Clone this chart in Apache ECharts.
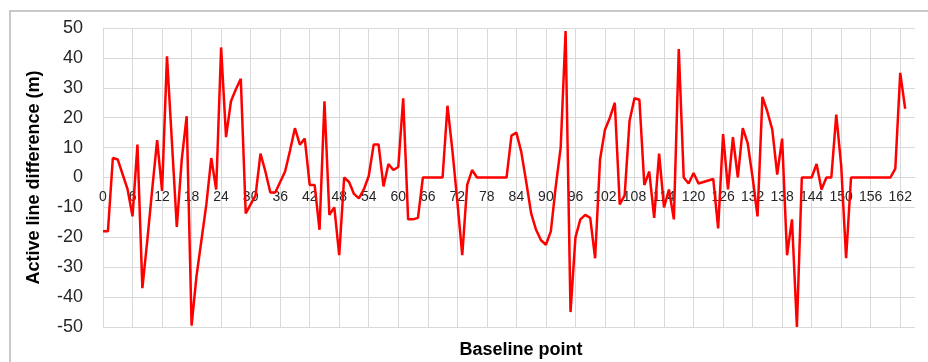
<!DOCTYPE html>
<html>
<head>
<meta charset="utf-8">
<script src="https://cdn.jsdelivr.net/npm/echarts@6/dist/echarts.min.js"></script>
<style>
  html, body { margin: 0; padding: 0; background: #fff; }
  #chart { width: 928px; height: 362px; }
</style>
</head>
<body>
<div id="chart"></div>
<script>
// baseline points 0..165 on the axis, values read for 0..163
const pointCount = 166
const categories = Array.from({ length: pointCount }, (_, i) => String(i))
const yTicks = [-50, -40, -30, -20, -10, 0, 10, 20, 30, 40, 50]
const difference = [
    -18, -18, 6.5, 6, 1, -4, -13, 11, -37, -21,
    -4, 12.5, -4.5, 40.5, 12, -16.5, 6, 20.5, -49.5, -33,
    -21, -9, 6.5, -4, 43.5, 13.5, 25.5, 29.5, 33, -12,
    -9, -6, 8, 2, -5, -5, -1.5, 2, 9, 16.5,
    11, 13, -2.5, -2.5, -17.5, 25.5, -12.5, -10, -26, 0,
    -1.5, -5.5, -7, -4, 0.5, 11, 11, -3, 4.5, 2.5,
    3.5, 26.5, -14, -14, -13.5, 0, 0, 0, 0, 0,
    24, 9, -8, -26, -2.5, 2.5, 0, 0, 0, 0,
    0, 0, 0, 14, 15, 8.5, -1.5, -12, -17.5, -21,
    -22.5, -18, -3, 10, 49, -45, -20, -14, -12.5, -13.5,
    -27, 6, 16, 20, 25, -9, -6, 19, 26.5, 26,
    -2.5, 2, -13.5, 8, -10, -4, -14, 43, 0, -2,
    1.5, -2, -1.5, -1, -0.5, -17, 14.5, -4, 13.5, 0,
    16.5, 11.5, 0, -13, 27, 22, 16, 1, 13, -26,
    -14, -50, 0, 0, 0, 4.5, -4, 0, 0, 21,
    4, -27, 0, 0, 0, 0, 0, 0, 0, 0,
    0, 3, 35, 23
]

const gridColor = "#d9d9d9"
const textColor = "#262626"

const chart = echarts.init(document.getElementById("chart"), null, { renderer: "canvas" })
chart.setOption({
    animation: false,
    backgroundColor: "#fff",
    graphic: [
        {
            type: "rect",
            shape: { x: 10, y: 11, width: 940, height: 400 },
            style: { fill: "none", stroke: "#b8b8b8", lineWidth: 1.5 },
        },
        {
            type: "text",
            style: {
                text: "Baseline point",
                x: 521,
                y: 350,
                align: "center",
                verticalAlign: "middle",
                fontFamily: "Liberation Sans",
                fontWeight: "bold",
                fontSize: 18,
                fill: "#000",
            },
        },
    ],
    grid: {
        left: 103,
        right: 13,
        top: 28,
        bottom: 35,
        containLabel: false,
    },
    xAxis: {
        type: "category",
        data: categories,
        boundaryGap: false,
        position: "bottom",
        // labels sit on the zero line, half way up the plot
        offset: -150,
        axisLine: { onZero: false, lineStyle: { color: gridColor, width: 1 } },
        axisTick: { show: false },
        axisLabel: {
            interval: 5,
            margin: 13,
            fontFamily: "Liberation Sans",
            fontSize: 14,
            color: textColor,
        },
        splitLine: { show: true, interval: 5, lineStyle: { color: gridColor, width: 1 } },
    },
    yAxis: {
        type: "value",
        min: yTicks[0],
        max: yTicks[yTicks.length - 1],
        interval: 10,
        name: "Active line difference (m)",
        nameLocation: "middle",
        nameGap: 60,
        nameTextStyle: {
            fontFamily: "Liberation Sans",
            fontWeight: "bold",
            fontSize: 18,
            color: "#000",
        },
        axisLine: { show: true, lineStyle: { color: gridColor, width: 1 } },
        axisTick: { show: false },
        axisLabel: {
            margin: 20,
            fontFamily: "Liberation Sans",
            fontSize: 18,
            color: textColor,
        },
        splitLine: { show: true, lineStyle: { color: gridColor, width: 1 } },
    },
    series: [
        {
            type: "line",
            data: difference,
            showSymbol: false,
            symbol: "none",
            z: 3,
            lineStyle: { color: "#ff0000", width: 2.5 },
            itemStyle: { color: "#ff0000" },
        },
    ],
})
</script>
</body>
</html>
